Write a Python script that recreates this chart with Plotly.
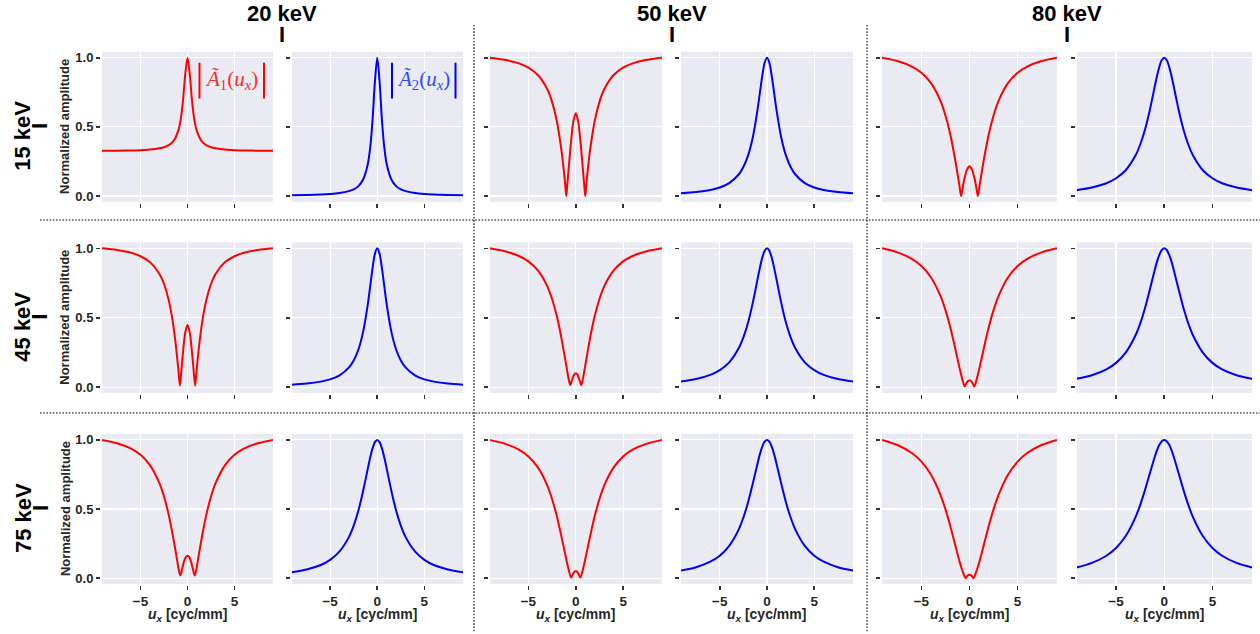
import plotly.graph_objects as go

# ---------------- data ----------------
ROW_ENERGIES = ["15 keV", "45 keV", "75 keV"]
COL_ENERGIES = ["20 keV", "50 keV", "80 keV"]
X_TICKS = [-5, 0, 5]
Y_TICKS = [0.0, 0.5, 1.0]
Y_TICK_TEXT = ["0.0", "0.5", "1.0"]
X_RANGE = [-9.1, 9.1]
Y_RANGE = [-0.043, 1.043]

# shared frequency samples for blue curves (and the 15/20 red curve)
BLUE_X = [-9.1, -7.5, -6, -5, -4, -3, -2.5, -2, -1.5, -1, -0.75, -0.5, -0.25, 0,
          0.25, 0.5, 0.75, 1, 1.5, 2, 2.5, 3, 4, 5, 6, 7.5, 9.1]

# |A2(u_x)| (blue)
B_15_20 = [0.006, 0.008, 0.011, 0.015, 0.022, 0.036, 0.048, 0.072, 0.12, 0.232, 0.35, 0.548, 0.825, 1.0,
           0.825, 0.548, 0.35, 0.232, 0.12, 0.072, 0.048, 0.036, 0.022, 0.015, 0.011, 0.008, 0.006]
B_15_50 = [0.020, 0.029, 0.044, 0.062, 0.094, 0.156, 0.210, 0.294, 0.425, 0.625, 0.747, 0.869, 0.964, 1.0,
           0.964, 0.869, 0.747, 0.625, 0.425, 0.294, 0.210, 0.156, 0.094, 0.062, 0.044, 0.029, 0.020]
B_15_80 = [0.043, 0.062, 0.093, 0.129, 0.187, 0.291, 0.371, 0.480, 0.621, 0.787, 0.868, 0.937, 0.983, 1.0,
           0.983, 0.937, 0.868, 0.787, 0.621, 0.480, 0.371, 0.291, 0.187, 0.129, 0.093, 0.062, 0.043]
B_45_20 = [0.018, 0.026, 0.040, 0.056, 0.085, 0.142, 0.192, 0.271, 0.398, 0.598, 0.726, 0.856, 0.960, 1.0,
           0.960, 0.856, 0.726, 0.598, 0.398, 0.271, 0.192, 0.142, 0.085, 0.056, 0.040, 0.026, 0.018]
B_45_50 = [0.041, 0.059, 0.089, 0.123, 0.179, 0.280, 0.359, 0.466, 0.609, 0.778, 0.861, 0.933, 0.982, 1.0,
           0.982, 0.933, 0.861, 0.778, 0.609, 0.466, 0.359, 0.280, 0.179, 0.123, 0.089, 0.059, 0.041]
B_45_80 = [0.060, 0.086, 0.128, 0.175, 0.249, 0.370, 0.458, 0.569, 0.702, 0.841, 0.904, 0.955, 0.988, 1.0,
           0.988, 0.955, 0.904, 0.841, 0.702, 0.569, 0.458, 0.370, 0.249, 0.175, 0.128, 0.086, 0.060]
B_75_20 = [0.044, 0.064, 0.096, 0.133, 0.194, 0.299, 0.381, 0.490, 0.631, 0.793, 0.872, 0.939, 0.984, 1.0,
           0.984, 0.939, 0.872, 0.793, 0.631, 0.490, 0.381, 0.299, 0.194, 0.133, 0.096, 0.064, 0.044]
B_75_50 = [0.056, 0.080, 0.120, 0.163, 0.234, 0.352, 0.439, 0.550, 0.685, 0.830, 0.897, 0.951, 0.987, 1.0,
           0.987, 0.951, 0.897, 0.830, 0.685, 0.550, 0.439, 0.352, 0.234, 0.163, 0.120, 0.080, 0.056]
B_75_80 = [0.078, 0.111, 0.163, 0.219, 0.305, 0.438, 0.529, 0.637, 0.757, 0.875, 0.926, 0.966, 0.991, 1.0,
           0.991, 0.966, 0.926, 0.875, 0.757, 0.637, 0.529, 0.438, 0.305, 0.219, 0.163, 0.111, 0.078]

# |A1(u_x)| (red)
X_R_15_20 = BLUE_X
Y_R_15_20 = [0.327, 0.328, 0.330, 0.332, 0.336, 0.345, 0.353, 0.368, 0.397, 0.469, 0.544, 0.676, 0.873, 1.0,
             0.873, 0.676, 0.544, 0.469, 0.397, 0.368, 0.353, 0.345, 0.336, 0.332, 0.330, 0.328, 0.327]

X_R_15_50 = [-9.1, -7.5, -6, -5, -4, -3, -2.5, -2, -1.5, -1.25, -1.1, -1.0, -0.9, -0.75, -0.5, -0.25, 0,
             0.25, 0.5, 0.75, 0.9, 1.0, 1.1, 1.25, 1.5, 2, 2.5, 3, 4, 5, 6, 7.5, 9.1]
Y_R_15_50 = [1.0, 0.985, 0.959, 0.928, 0.875, 0.772, 0.681, 0.543, 0.327, 0.179, 0.076, 0.0, 0.076, 0.196, 0.392, 0.542, 0.599,
             0.542, 0.392, 0.196, 0.076, 0.0, 0.076, 0.179, 0.327, 0.543, 0.681, 0.772, 0.875, 0.928, 0.959, 0.985, 1.0]

X_R_15_80 = [-9.1, -7.5, -6, -5, -4, -3, -2.5, -2, -1.5, -1.25, -1.05, -0.87, -0.7, -0.5, -0.25, 0,
             0.25, 0.5, 0.7, 0.87, 1.05, 1.25, 1.5, 2, 2.5, 3, 4, 5, 6, 7.5, 9.1]
Y_R_15_80 = [1.0, 0.976, 0.936, 0.891, 0.816, 0.685, 0.583, 0.445, 0.266, 0.163, 0.077, 0.0, 0.066, 0.134, 0.193, 0.215,
             0.193, 0.134, 0.066, 0.0, 0.077, 0.163, 0.266, 0.445, 0.583, 0.685, 0.816, 0.891, 0.936, 0.976, 1.0]

X_R_45_20 = [-9.1, -7.5, -6, -5, -4, -3, -2.5, -2, -1.6, -1.3, -1.1, -0.95, -0.81, -0.65, -0.5, -0.25, 0,
             0.25, 0.5, 0.65, 0.81, 0.95, 1.1, 1.3, 1.6, 2, 2.5, 3, 4, 5, 6, 7.5, 9.1]
Y_R_45_20 = [1.0, 0.988, 0.968, 0.943, 0.901, 0.817, 0.743, 0.627, 0.484, 0.336, 0.213, 0.108, 0.01, 0.122, 0.236, 0.389, 0.448,
             0.389, 0.236, 0.122, 0.01, 0.108, 0.213, 0.336, 0.484, 0.627, 0.743, 0.817, 0.901, 0.943, 0.968, 0.988, 1.0]

X_R_45_50 = [-9.1, -7.5, -6, -5, -4, -3, -2.5, -2, -1.6, -1.3, -1.1, -0.9, -0.75, -0.58, -0.4, -0.2, 0,
             0.2, 0.4, 0.58, 0.75, 0.9, 1.1, 1.3, 1.6, 2, 2.5, 3, 4, 5, 6, 7.5, 9.1]
Y_R_45_50 = [1.0, 0.979, 0.945, 0.906, 0.841, 0.726, 0.635, 0.512, 0.385, 0.274, 0.195, 0.116, 0.059, 0.015, 0.050, 0.087, 0.100,
             0.087, 0.050, 0.015, 0.059, 0.116, 0.195, 0.274, 0.385, 0.512, 0.635, 0.726, 0.841, 0.906, 0.945, 0.979, 1.0]

X_R_45_80 = [-9.1, -7.5, -6, -5, -4, -3, -2.5, -2, -1.5, -1.25, -1, -0.75, -0.5, -0.25, 0,
             0.25, 0.5, 0.75, 1, 1.25, 1.5, 2, 2.5, 3, 4, 5, 6, 7.5, 9.1]
Y_R_45_80 = [1.0, 0.971, 0.924, 0.872, 0.790, 0.654, 0.555, 0.431, 0.283, 0.205, 0.128, 0.057, 0.005, 0.037, 0.050,
             0.037, 0.005, 0.057, 0.128, 0.205, 0.283, 0.431, 0.555, 0.654, 0.790, 0.872, 0.924, 0.971, 1.0]

X_R_75_20 = [-9.1, -7.5, -6, -5, -4, -3, -2.5, -2, -1.7, -1.4, -1.15, -0.95, -0.77, -0.6, -0.4, -0.2, 0,
             0.2, 0.4, 0.6, 0.77, 0.95, 1.15, 1.4, 1.7, 2, 2.5, 3, 4, 5, 6, 7.5, 9.1]
Y_R_75_20 = [1.0, 0.976, 0.937, 0.892, 0.818, 0.690, 0.591, 0.458, 0.359, 0.248, 0.148, 0.068, 0.02, 0.059, 0.115, 0.151, 0.163,
             0.151, 0.115, 0.059, 0.02, 0.068, 0.148, 0.248, 0.359, 0.458, 0.591, 0.690, 0.818, 0.892, 0.937, 0.976, 1.0]

X_R_75_50 = [-9.1, -7.5, -6, -5, -4, -3, -2.5, -2, -1.5, -1.25, -1, -0.75, -0.49, -0.25, 0,
             0.25, 0.49, 0.75, 1, 1.25, 1.5, 2, 2.5, 3, 4, 5, 6, 7.5, 9.1]
Y_R_75_50 = [1.0, 0.973, 0.929, 0.880, 0.801, 0.670, 0.573, 0.450, 0.299, 0.218, 0.137, 0.063, 0.005, 0.038, 0.052,
             0.038, 0.005, 0.063, 0.137, 0.218, 0.299, 0.450, 0.573, 0.670, 0.801, 0.880, 0.929, 0.973, 1.0]

X_R_75_80 = [-9.1, -7.5, -6, -5, -4, -3, -2.5, -2, -1.5, -1.25, -1, -0.8, -0.6, -0.41, -0.2, 0,
             0.2, 0.41, 0.6, 0.8, 1, 1.25, 1.5, 2, 2.5, 3, 4, 5, 6, 7.5, 9.1]
Y_R_75_80 = [1.0, 0.963, 0.905, 0.843, 0.748, 0.599, 0.498, 0.378, 0.244, 0.177, 0.113, 0.067, 0.028, 0.0, 0.020, 0.026,
             0.020, 0.0, 0.028, 0.067, 0.113, 0.177, 0.244, 0.378, 0.498, 0.599, 0.748, 0.843, 0.905, 0.963, 1.0]

RED = [[(X_R_15_20, Y_R_15_20), (X_R_15_50, Y_R_15_50), (X_R_15_80, Y_R_15_80)],
       [(X_R_45_20, Y_R_45_20), (X_R_45_50, Y_R_45_50), (X_R_45_80, Y_R_45_80)],
       [(X_R_75_20, Y_R_75_20), (X_R_75_50, Y_R_75_50), (X_R_75_80, Y_R_75_80)]]
BLUE = [[B_15_20, B_15_50, B_15_80],
        [B_45_20, B_45_50, B_45_80],
        [B_75_20, B_75_50, B_75_80]]

# ---------------- layout geometry (pixels) ----------------
W, H = 1260, 634
COL_PX = [(102, 273), (291.5, 463), (489.5, 662), (681, 853), (882, 1057), (1076.5, 1252)]
ROW_PX = [(51, 202), (242.5, 394), (435, 586)]


def fx(p):
    return p / W


def fy(p):
    return 1 - p / H


TXT = "#262626"
FONT = "Liberation Sans"

fig = go.Figure()
layout = dict(
    width=W, height=H, margin=dict(l=0, r=0, t=0, b=0),
    paper_bgcolor="white", plot_bgcolor="#EAEAF2", showlegend=False,
)

for r in range(3):
    for c in range(6):
        k = r * 6 + c + 1
        pair = c // 2
        if c % 2 == 0:
            xs, ys = RED[r][pair]
            color = "#FF0000"
        else:
            xs, ys = BLUE_X, BLUE[r][pair]
            color = "#0000FF"
        fig.add_trace(go.Scatter(
            x=xs, y=ys, mode="lines",
            line=dict(color=color, width=2, shape="spline", smoothing=0.8),
            xaxis=f"x{k}", yaxis=f"y{k}", hoverinfo="skip"))
        x0, x1 = COL_PX[c]
        y0, y1 = ROW_PX[r]
        layout[f"xaxis{k}"] = dict(
            domain=[fx(x0), fx(x1)], anchor=f"y{k}", range=X_RANGE,
            tickmode="array", tickvals=X_TICKS, showticklabels=(r == 2),
            ticks="outside", ticklen=4, tickwidth=1.6, tickcolor="#333333",
            showline=True, linecolor="white", linewidth=2, mirror=False,
            showgrid=True, gridcolor="white", gridwidth=1.2, zeroline=False,
            tickfont=dict(family=FONT, size=13.5, color=TXT, weight="bold"),
        )
        layout[f"yaxis{k}"] = dict(
            domain=[fy(y1), fy(y0)], anchor=f"x{k}", range=Y_RANGE,
            tickmode="array", tickvals=Y_TICKS, ticktext=Y_TICK_TEXT,
            showticklabels=(c == 0),
            ticks="outside", ticklen=4, tickwidth=1.6, tickcolor="#333333",
            showline=True, linecolor="white", linewidth=2, mirror=False,
            showgrid=True, gridcolor="white", gridwidth=1.2, zeroline=False,
            tickfont=dict(family=FONT, size=13, color=TXT, weight="bold"),
        )

annotations = []
shapes = []

# column headers
for j, lab in enumerate(COL_ENERGIES):
    cx = (COL_PX[2 * j][1] + COL_PX[2 * j + 1][0]) / 2
    annotations.append(dict(text=lab, x=fx(cx), y=fy(13), xref="paper", yref="paper",
                            showarrow=False, xanchor="center", yanchor="middle",
                            font=dict(family=FONT, size=22, color="black", weight="bold")))
    annotations.append(dict(text="I", x=fx(cx), y=fy(34), xref="paper", yref="paper",
                            showarrow=False, xanchor="center", yanchor="middle",
                            font=dict(family=FONT, size=22, color="black", weight="bold")))

# row labels + y titles
for i, lab in enumerate(ROW_ENERGIES):
    cy = (ROW_PX[i][0] + ROW_PX[i][1]) / 2
    annotations.append(dict(text=lab, x=fx(23), y=fy(cy + 9), xref="paper", yref="paper",
                            showarrow=False, textangle=-90, xanchor="center", yanchor="middle",
                            font=dict(family=FONT, size=22, color="black", weight="bold")))
    annotations.append(dict(text="I", x=fx(40), y=fy(cy - 1), xref="paper", yref="paper",
                            showarrow=False, textangle=-90, xanchor="center", yanchor="middle",
                            font=dict(family=FONT, size=22, color="black", weight="bold")))
    annotations.append(dict(text="Normalized amplitude", x=fx(65), y=fy(cy), xref="paper", yref="paper",
                            showarrow=False, textangle=-90, xanchor="center", yanchor="middle",
                            font=dict(family=FONT, size=13, color=TXT, weight="bold")))

# x titles
for c in range(6):
    cx = (COL_PX[c][0] + COL_PX[c][1]) / 2
    annotations.append(dict(text="<i>u<sub>x</sub></i> [cyc/mm]", x=fx(cx), y=fy(617),
                            xref="paper", yref="paper", showarrow=False,
                            xanchor="center", yanchor="middle",
                            font=dict(family=FONT, size=14, color=TXT, weight="bold")))

# curve labels
LABELS = [("<i>Ã</i><sub>1</sub>(<i>u<sub>x</sub></i>)", 231.5, 199.5, 264, "#FF2A2A", "#FF0000"),
          ("<i>Ã</i><sub>2</sub>(<i>u<sub>x</sub></i>)", 423.5, 392, 455.5, "#2A4BFF", "#0000FF")]
for txt, cx, bl, br, tcol, bcol in LABELS:
    annotations.append(dict(text=txt, x=fx(cx), y=fy(79), xref="paper", yref="paper",
                            showarrow=False, xanchor="center", yanchor="middle",
                            font=dict(family="Liberation Serif", size=21, color=tcol)))
    for bx in (bl, br):
        shapes.append(dict(type="line", xref="paper", yref="paper",
                           x0=fx(bx), x1=fx(bx), y0=fy(62), y1=fy(98),
                           line=dict(color=bcol, width=2)))

# dotted separators
DOT = dict(color="#555555", width=1.6, dash="1.6px,1.6px")
for vx in (474, 867):
    shapes.append(dict(type="line", xref="paper", yref="paper",
                       x0=fx(vx), x1=fx(vx), y0=fy(24), y1=fy(634), line=DOT))
for hy in (220, 414):
    shapes.append(dict(type="line", xref="paper", yref="paper",
                       x0=fx(40), x1=fx(1260), y0=fy(hy), y1=fy(hy), line=DOT))

layout["annotations"] = annotations
layout["shapes"] = shapes
fig.update_layout(**layout)
fig.write_html("out.html",
               config={"displayModeBar": False, "staticPlot": True},
               post_script="document.body.style.margin='0';document.body.style.overflow='hidden';")
